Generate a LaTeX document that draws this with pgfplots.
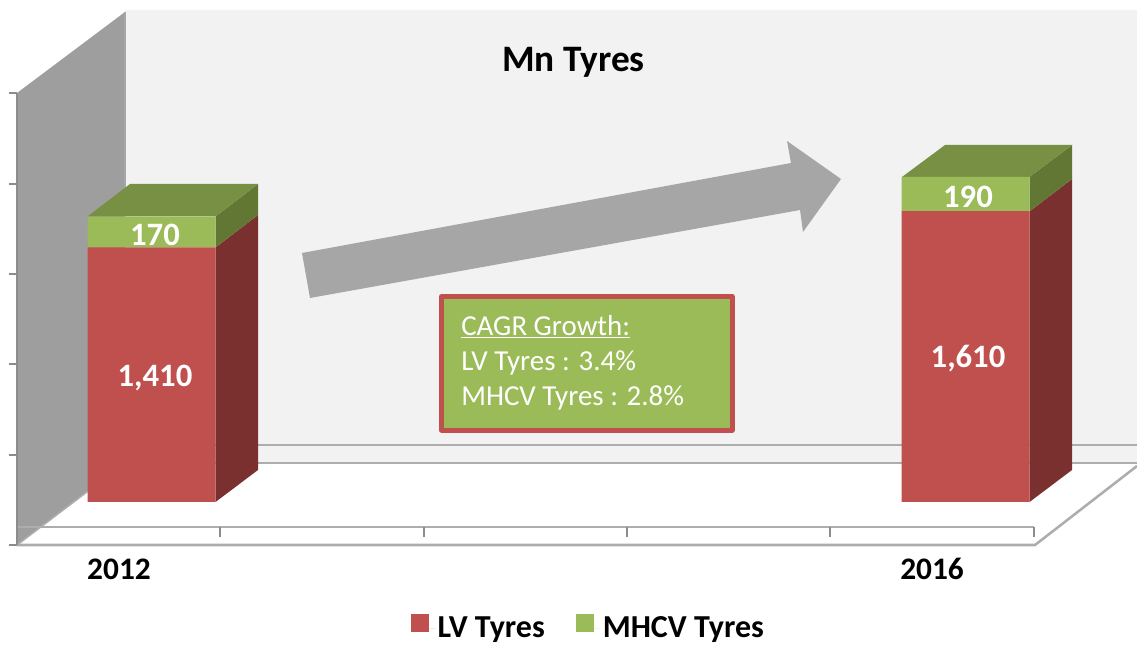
\documentclass[border=0pt]{standalone}
\usepackage{pgfplots}
\usepackage{fontspec}
\setmainfont{Carlito}
\pgfplotsset{compat=1.18}
\definecolor{lvred}{HTML}{C0504D}
\definecolor{lvdark}{HTML}{7A302E}
\definecolor{hvgreen}{HTML}{9BBB59}
\definecolor{hvtop}{HTML}{779043}
\definecolor{hvside}{HTML}{637735}
\definecolor{wallgray}{HTML}{9E9E9E}
\definecolor{backwall}{HTML}{F2F2F2}
\definecolor{arrowgray}{HTML}{A6A6A6}
\definecolor{linegray}{HTML}{ADADAD}
\definecolor{tickgray}{HTML}{8C8C8C}
\begin{document}
\begin{tikzpicture}
\path[use as bounding box] (0,0) rectangle (852.75pt,483.75pt);
% decoration layer in picture pixels
\begin{axis}[
  scale only axis, width=852.75pt, height=483.75pt,
  xmin=0, xmax=1137, ymin=0, ymax=645, y dir=reverse,
  hide axis, clip=true]
% walls
\addplot[fill=backwall, draw=none] coordinates {(125,10) (1137,10) (1137,463) (125,463) (125,10)};
\addplot[fill=wallgray, draw=none] coordinates {(17,93) (125,12) (125,463) (17,545) (17,93)};
% gridlines
\addplot[linegray, line width=1.9pt] coordinates {(125,445) (1137,445)};
\addplot[linegray, line width=1.9pt] coordinates {(125,463) (1137,463)};
\addplot[linegray, line width=1.9pt] coordinates {(17,527) (1034,527)};
\addplot[linegray, line width=1.9pt] coordinates {(17,545) (1035,545) (1137,466)};
\addplot[linegray, line width=1.2pt] coordinates {(17,545) (125,463)};
\addplot[tickgray, line width=1.2pt] coordinates {(17,93) (17,545)};
\addplot[gray!70!white, line width=1pt] coordinates {(125,12) (125,216)};
% ticks
\addplot[tickgray, line width=1.2pt] coordinates {(9,93) (17,93)};
\addplot[tickgray, line width=1.2pt] coordinates {(9,184) (17,184)};
\addplot[tickgray, line width=1.2pt] coordinates {(9,274) (17,274)};
\addplot[tickgray, line width=1.2pt] coordinates {(9,364) (17,364)};
\addplot[tickgray, line width=1.2pt] coordinates {(9,455) (17,455)};
\addplot[tickgray, line width=1.2pt] coordinates {(9,545) (17,545)};
\addplot[tickgray, line width=1.4pt] coordinates {(220,527) (220,537)};
\addplot[tickgray, line width=1.4pt] coordinates {(424,527) (424,537)};
\addplot[tickgray, line width=1.4pt] coordinates {(627,527) (627,537)};
\addplot[tickgray, line width=1.4pt] coordinates {(830,527) (830,537)};
\addplot[tickgray, line width=1.4pt] coordinates {(1034,527) (1034,537)};
% 3-D faces of the bars
\addplot[fill=lvdark, draw=none] coordinates {(215.5,502) (258,470) (258,215) (215.5,247.5) (215.5,502)};
\addplot[fill=hvside, draw=none] coordinates {(215.5,247.5) (258,215) (258,184) (215.5,216.5) (215.5,247.5)};
\addplot[fill=hvtop, draw=none] coordinates {(87.5,216.5) (130,184) (258,184) (215.5,216.5) (87.5,216.5)};
\addplot[fill=lvdark, draw=none] coordinates {(1029.5,502) (1072,470) (1072,179) (1029.5,211.5) (1029.5,502)};
\addplot[fill=hvside, draw=none] coordinates {(1029.5,211.5) (1072,179) (1072,145) (1029.5,177) (1029.5,211.5)};
\addplot[fill=hvtop, draw=none] coordinates {(902,177) (945,145) (1072,145) (1029.5,177) (902,177)};
% arrow
\addplot[fill=arrowgray, draw=none] coordinates {(302,253) (791,163) (787,141) (841,179) (803,232) (800,210) (310,298) (302,253)};
% CAGR box
\addplot[fill=hvgreen, draw=lvred, line width=3.75pt, line join=round] coordinates {(441.5,296.5) (732,296.5) (732,430) (441.5,430)} -- cycle;
\node[white, anchor=base west, inner sep=0pt, font=\fontsize{21.7}{24}\selectfont] at (axis cs:461,335) {\underline{CAGR Growth:}};
\node[white, anchor=base west, inner sep=0pt, font=\fontsize{21.7}{24}\selectfont] at (axis cs:461,370) {LV Tyres : 3.4\%};
\node[white, anchor=base west, inner sep=0pt, font=\fontsize{21.7}{24}\selectfont] at (axis cs:461,405) {MHCV Tyres : 2.8\%};
\end{axis}
% data layer
\begin{axis}[
  scale only axis, width=852.75pt, height=483.75pt,
  xmin=0, xmax=1137, ymin=-791.8, ymax=2779.6,
  hide axis, clip=false,
  ybar stacked, bar width=128,
  legend columns=2,
  legend image code/.code={\fill[#1] (0pt,-3pt) rectangle (13.5pt,10.5pt);\path (0pt,0pt) -- (17.75pt,0pt);},
  legend style={at={(axis cs:589,-699)}, anchor=center, draw=none, fill=none,
    inner sep=0pt, font=\fontsize{24}{26}\selectfont\bfseries,
    /tikz/every even column/.append style={column sep=21.75pt}},
]
\addplot[fill=lvred, draw=none] coordinates {(151.5,1410) (965.5,1610)};
\addplot[fill=hvgreen, draw=none] coordinates {(151.5,170) (965.5,190)};
\legend{LV Tyres, MHCV Tyres}
\end{axis}
% text layer
\begin{axis}[
  scale only axis, width=852.75pt, height=483.75pt,
  xmin=0, xmax=1137, ymin=-791.8, ymax=2779.6,
  hide axis, clip=false]
\node[white, anchor=base, font=\fontsize{24.5}{26}\selectfont\bfseries, inner sep=0pt] at (axis cs:155,642) {1,410};
\node[white, anchor=base, font=\fontsize{24.5}{26}\selectfont\bfseries, inner sep=0pt] at (axis cs:155,1419) {170};
\node[white, anchor=base, font=\fontsize{24.5}{26}\selectfont\bfseries, inner sep=0pt] at (axis cs:968,742) {1,610};
\node[white, anchor=base, font=\fontsize{24.5}{26}\selectfont\bfseries, inner sep=0pt] at (axis cs:968,1629) {190};
\node[black, anchor=base, font=\fontsize{23.5}{26}\selectfont\bfseries, inner sep=0pt] at (axis cs:119,-430) {2012};
\node[black, anchor=base, font=\fontsize{23.5}{26}\selectfont\bfseries, inner sep=0pt] at (axis cs:932,-430) {2016};
\node[black, anchor=base, font=\fontsize{28}{30}\selectfont\bfseries, inner sep=0pt] at (axis cs:573.5,2383) {Mn Tyres};
\end{axis}
\end{tikzpicture}
\end{document}
